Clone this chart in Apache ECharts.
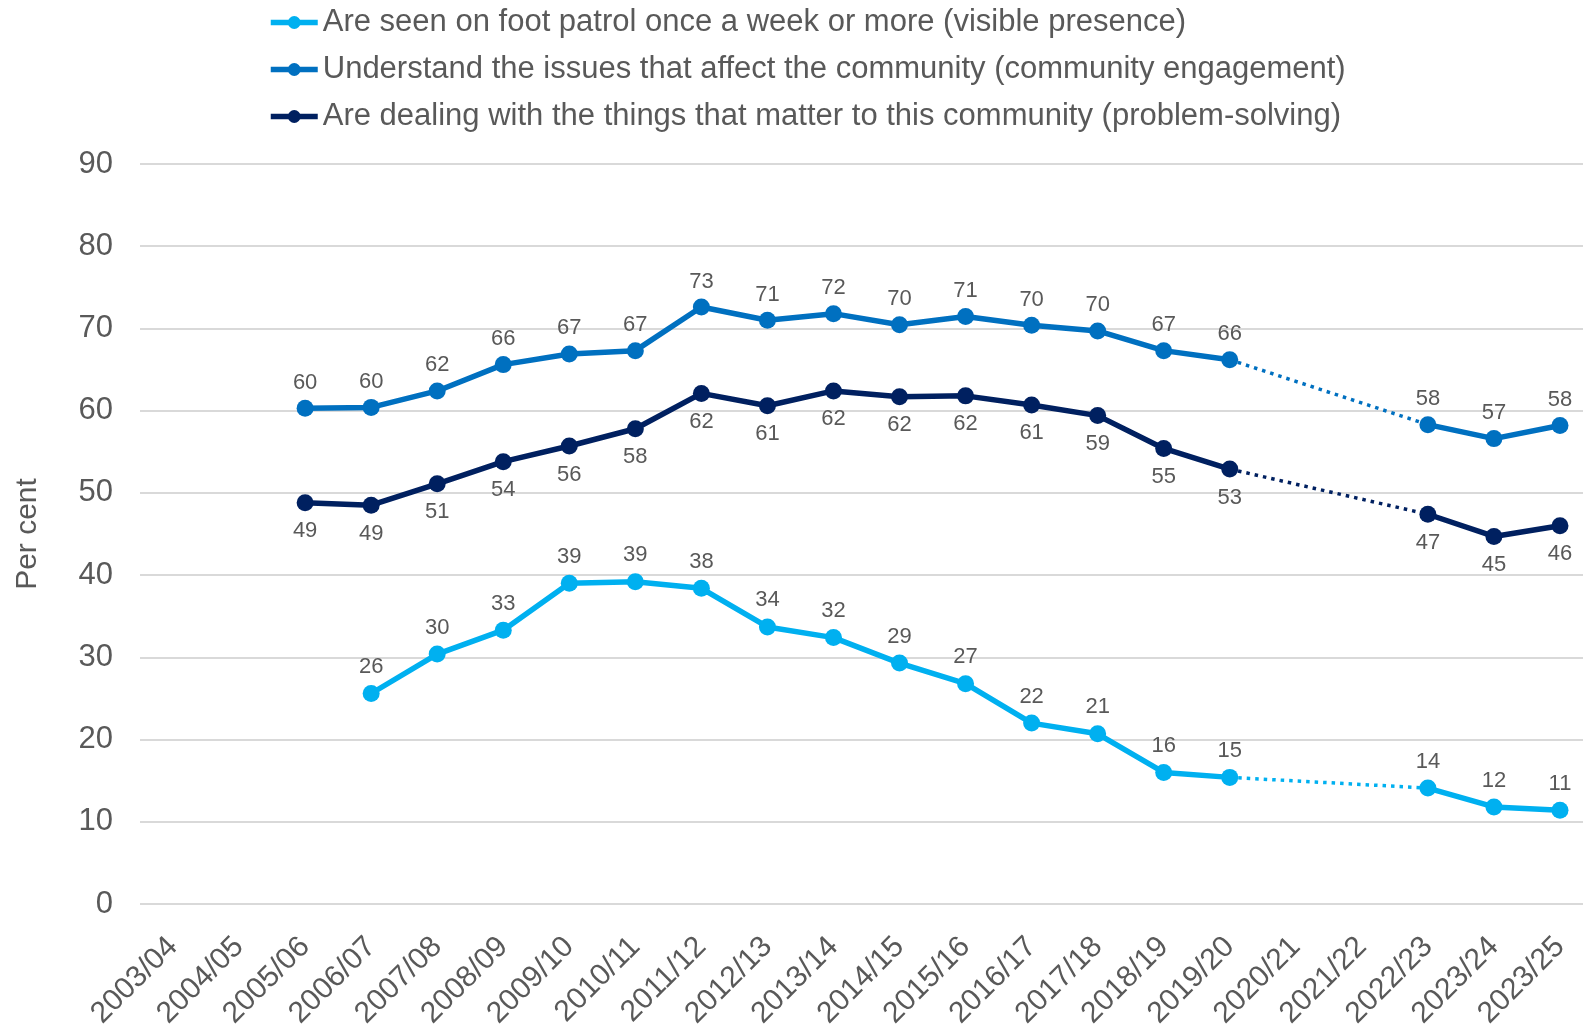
<!DOCTYPE html>
<html>
<head>
<meta charset="utf-8">
<script src="https://cdn.jsdelivr.net/npm/echarts@6/dist/echarts.min.js"></script>
<style>
html,body{margin:0;padding:0;background:#fff;overflow:hidden;}
#chart{width:1600px;height:1024px;}
</style>
</head>
<body>
<div id="chart"></div>
<script>
const categories = ['2003/04','2004/05','2005/06','2006/07','2007/08','2008/09','2009/10','2010/11','2011/12','2012/13','2013/14','2014/15','2015/16','2016/17','2017/18','2018/19','2019/20','2020/21','2021/22','2022/23','2023/24','2023/25'];
const seriesNames = [
  'Are seen on foot patrol once a week or more (visible presence)',
  'Understand the issues that affect the community (community engagement)',
  'Are dealing with the things that matter to this community (problem-solving)'
];
const visiblePresence = [null,null,null,25.6,30.4,33.3,39.0,39.2,38.4,33.7,32.4,29.3,26.8,22.0,20.7,16.0,15.4,null,null,14.1,11.8,11.4];
const communityEngagement = [null,null,60.3,60.4,62.4,65.6,66.9,67.3,72.6,71.0,71.8,70.45,71.45,70.4,69.7,67.3,66.2,null,null,58.3,56.6,58.2];
const problemSolving = [null,null,48.8,48.5,51.1,53.8,55.7,57.8,62.1,60.6,62.4,61.7,61.8,60.7,59.4,55.4,52.9,null,null,47.4,44.7,46.0];
const yTicks = {min: 0, max: 90, interval: 10};
const gapFrom = '2019/20', gapTo = '2022/23';

const colors = ['#00B0F0', '#0070C0', '#002060'];
const labelPos = ['top', 'top', 'bottom'];
const labelDist = [7, 6, 9];
const datasets = [visiblePresence, communityEngagement, problemSolving];
const FONT = '"Liberation Sans", Arial, sans-serif';
const TXT = '#595959';

function bridge(arr) {
  const a = categories.indexOf(gapFrom), b = categories.indexOf(gapTo);
  return arr.map((v, i) => (i === a || i === b) ? v : null);
}

const series = [];
datasets.forEach((d, k) => {
  series.push({
    name: seriesNames[k],
    type: 'line',
    data: d,
    connectNulls: false,
    symbol: 'circle',
    symbolSize: 17,
    z: 3,
    lineStyle: {color: colors[k], width: 5.5},
    itemStyle: {color: colors[k]},
    label: {
      show: true,
      position: labelPos[k],
      distance: labelDist[k],
      color: TXT,
      fontFamily: FONT,
      fontSize: 22,
      formatter: p => Math.round(p.value)
    },
    emphasis: {disabled: true},
    animation: false
  });
});
datasets.forEach((d, k) => {
  series.push({
    name: seriesNames[k] + ' (gap)',
    type: 'line',
    data: bridge(d),
    connectNulls: true,
    symbol: 'none',
    z: 2,
    lineStyle: {color: colors[k], width: 3.5, type: [3.5, 5]},
    emphasis: {disabled: true},
    silent: true,
    animation: false
  });
});

const chart = echarts.init(document.getElementById('chart'), null, {renderer: 'canvas'});
chart.setOption({
  animation: false,
  backgroundColor: '#fff',
  textStyle: {fontFamily: FONT},
  legend: {
    data: seriesNames,
    orient: 'vertical',
    left: 263,
    top: 2,
    itemWidth: 47,
    itemHeight: 16,
    itemGap: 16,
    lineStyle: {width: 5.5},
    textStyle: {color: TXT, fontSize: 31, fontFamily: FONT},
    selectedMode: false
  },
  grid: {left: 140, top: 164, width: 1453, height: 740, containLabel: false, outerBoundsMode: 'none'},
  xAxis: {
    type: 'category',
    data: categories,
    boundaryGap: true,
    axisLine: {show: false},
    axisTick: {show: false},
    axisLabel: {interval: 0, rotate: 45, margin: 38, color: TXT, fontSize: 30, fontFamily: FONT}
  },
  yAxis: {
    type: 'value',
    min: yTicks.min, max: yTicks.max, interval: yTicks.interval,
    name: 'Per cent',
    nameLocation: 'middle',
    nameGap: 97,
    nameRotate: 90,
    nameTextStyle: {color: TXT, fontSize: 30, fontFamily: FONT},
    axisLine: {show: false},
    axisTick: {show: false},
    axisLabel: {margin: 27, color: TXT, fontSize: 31, fontFamily: FONT},
    splitLine: {show: true, lineStyle: {color: '#D9D9D9', width: 2}}
  },
  series: series
});
</script>
</body>
</html>
